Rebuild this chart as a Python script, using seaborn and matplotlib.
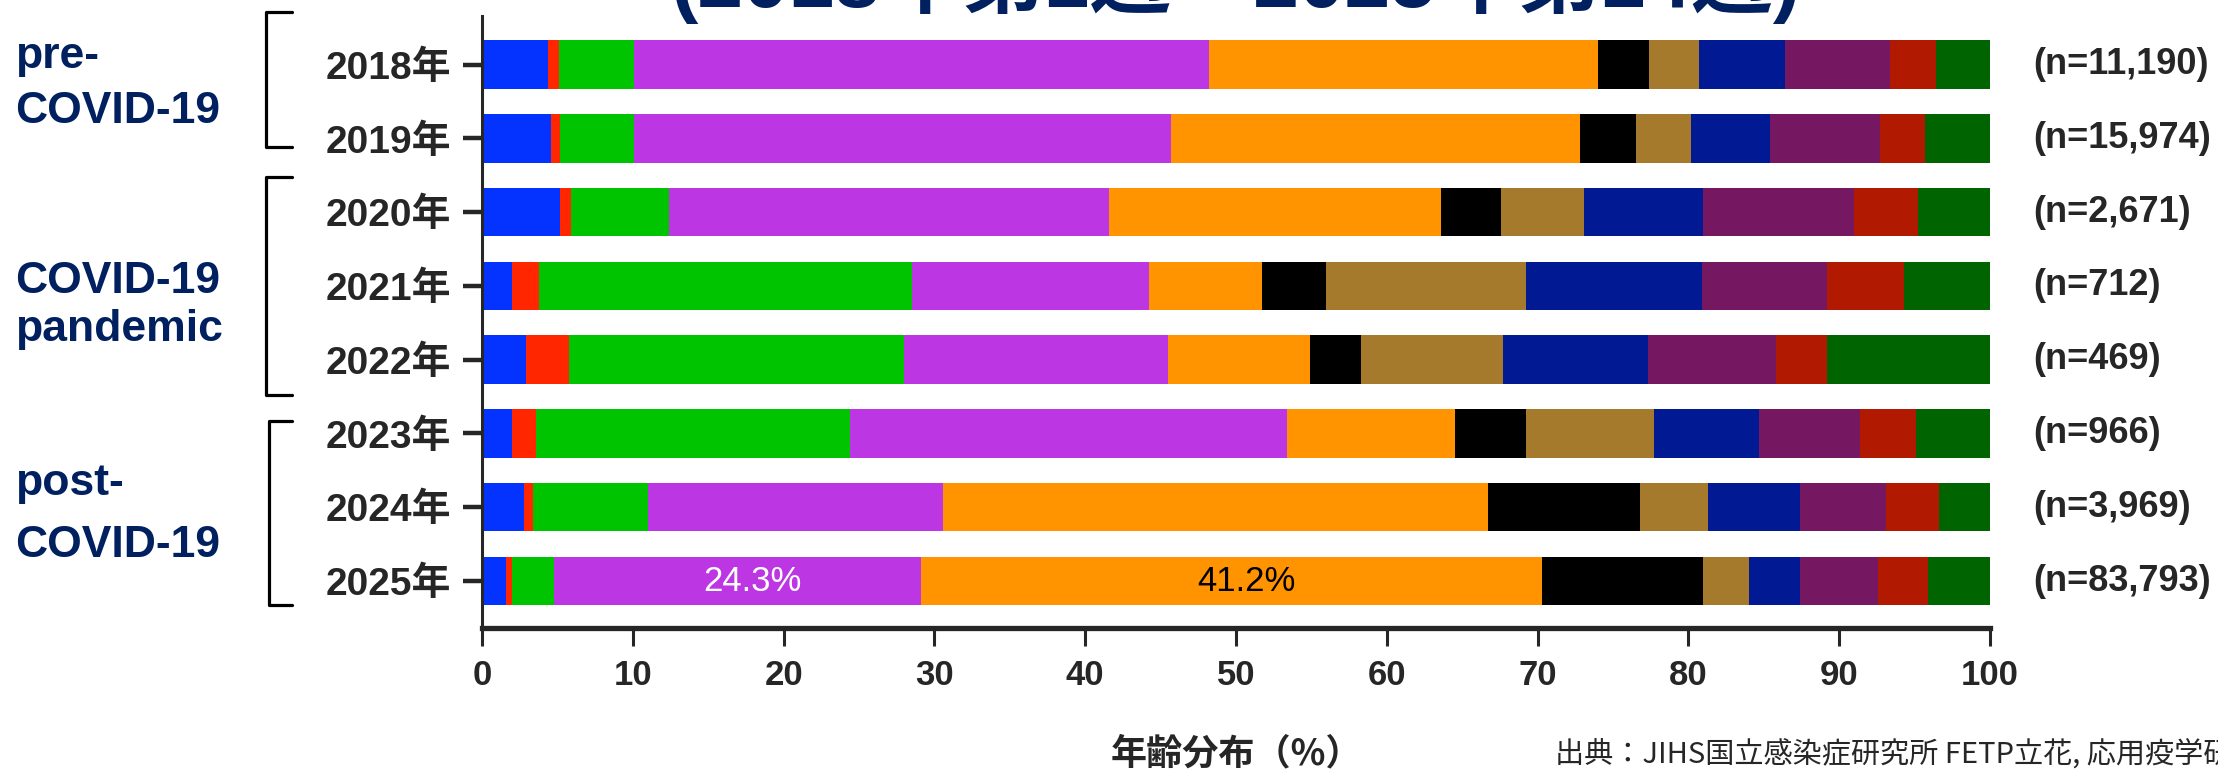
import numpy as np
import pandas as pd
import seaborn as sns
import matplotlib.pyplot as plt
from matplotlib.lines import Line2D

# 年ごとの年齢群別割合（%）
years = ["2018年", "2019年", "2020年", "2021年", "2022年", "2023年", "2024年", "2025年"]
n_labels = ["(n=11,190)", "(n=15,974)", "(n=2,671)", "(n=712)",
            "(n=469)", "(n=966)", "(n=3,969)", "(n=83,793)"]
age_groups = ["群01", "群02", "群03", "群04", "群05", "群06",
              "群07", "群08", "群09", "群10", "群11"]

share_2018 = [4.4, 0.7, 5.0, 38.1, 25.8, 3.4, 3.3, 5.7, 7.0, 3.0, 3.6]
share_2019 = [4.6, 0.6, 4.9, 35.6, 27.1, 3.7, 3.7, 5.2, 7.3, 3.0, 4.3]
share_2020 = [5.2, 0.7, 6.5, 29.2, 22.0, 4.0, 5.5, 7.9, 10.0, 4.2, 4.8]
share_2021 = [2.0, 1.8, 24.7, 15.7, 7.5, 4.3, 13.2, 11.7, 8.3, 5.1, 5.7]
share_2022 = [2.9, 2.9, 22.2, 17.5, 9.4, 3.4, 9.4, 9.6, 8.5, 3.4, 10.8]
share_2023 = [2.0, 1.6, 20.8, 29.0, 11.1, 4.7, 8.5, 7.0, 6.7, 3.7, 4.9]
share_2024 = [2.8, 0.6, 7.6, 19.6, 36.1, 10.1, 4.5, 6.1, 5.7, 3.5, 3.4]
share_2025 = [1.6, 0.4, 2.8, 24.3, 41.2, 10.7, 3.0, 3.4, 5.2, 3.3, 4.1]

colors = ["#0433FF", "#FF2600", "#00C400", "#BC37E3", "#FF9300", "#000000",
          "#A67A2C", "#011993", "#761762", "#B11A00", "#006500"]

navy = "#002060"

sns.set_style("ticks")
plt.rcParams["font.family"] = ["Liberation Sans", "Noto Sans CJK JP"]

df = pd.DataFrame([share_2018, share_2019, share_2020, share_2021,
                   share_2022, share_2023, share_2024, share_2025],
                  index=years, columns=age_groups)
cum = df.cumsum(axis=1)

W, H = 2218, 777
fig = plt.figure(figsize=(W / 100, H / 100), dpi=100)
ax = fig.add_axes([482 / W, 1 - 628 / H, (1990 - 482) / W, (628 - 15.7) / H])

# 積み上げ棒: 累積値の大きいものから順に重ね描き
for k in range(len(age_groups) - 1, -1, -1):
    sns.barplot(x=cum[age_groups[k]].values, y=years, orient="h",
                color=colors[k], saturation=1, width=0.657,
                errorbar=None, linewidth=0, ax=ax)

ax.set_xlim(0, 100)
ax.set_ylim(7.637, -0.664)
ax.set_xticks(np.arange(0, 101, 10))
ax.set_ylabel("")
ax.set_xlabel("年齢分布（%）", fontsize=26, fontweight="bold", va="center",
              family=["Noto Sans CJK JP"])
ax.xaxis.set_label_coords(0.5, -(754 - 628) / (628 - 15.7))

for s in ["top", "right"]:
    ax.spines[s].set_visible(False)
ax.spines["left"].set_linewidth(2.2)
ax.spines["bottom"].set_linewidth(3.8)

ax.tick_params(axis="y", length=13.7, width=3.2, pad=8.5, labelsize=28)
ax.tick_params(axis="x", length=13, width=2.2, pad=9, labelsize=25)
for lab in ax.get_yticklabels() + ax.get_xticklabels():
    lab.set_fontweight("bold")

# n数
for i, t in enumerate(n_labels):
    ax.text(102.85, i, t, ha="left", va="center", fontsize=26,
            fontweight="bold", clip_on=False)

# 2025年の注記
i25 = years.index("2025年")
for k, c in [(3, "white"), (4, "black")]:
    left = cum.iloc[i25, k] - df.iloc[i25, k]
    ax.text(left + df.iloc[i25, k] / 2 + 1.0, i25, f"{df.iloc[i25, k]}%",
            ha="center", va="center", fontsize=25, color=c)

# タイトル（上端で切れている）
fig.text(1236 / W, 1 - 7 / H, "(2018年第1週－2025年第14週)", ha="center",
         va="baseline", fontsize=59, fontweight="bold", color=navy)

# 期間ラベル
groups = [("pre-", 68), ("COVID-19", 123), ("COVID-19", 293), ("pandemic", 341),
          ("post-", 495), ("COVID-19", 557)]
for t, yb in groups:
    fig.text(15 / W, 1 - yb / H, t, ha="left", va="baseline", fontsize=32,
             fontweight="bold", color=navy)

# 括弧
for y0, y1, x in [(12, 147, 266), (177, 395, 266), (421, 605, 269)]:
    xs = [292 / W, x / W, x / W, 292 / W]
    ys = [1 - y0 / H, 1 - y0 / H, 1 - y1 / H, 1 - y1 / H]
    fig.add_artist(Line2D(xs, ys, color="black", lw=2.3,
                          solid_joinstyle="round"))

fig.text(1555 / W, 1 - 754 / H,
         "出典：JIHS国立感染症研究所 FETP立花, 応用疫学研究センター",
         ha="left", va="center", fontsize=21, family=["Noto Sans CJK JP"])

fig.savefig("out.png", dpi=100)
